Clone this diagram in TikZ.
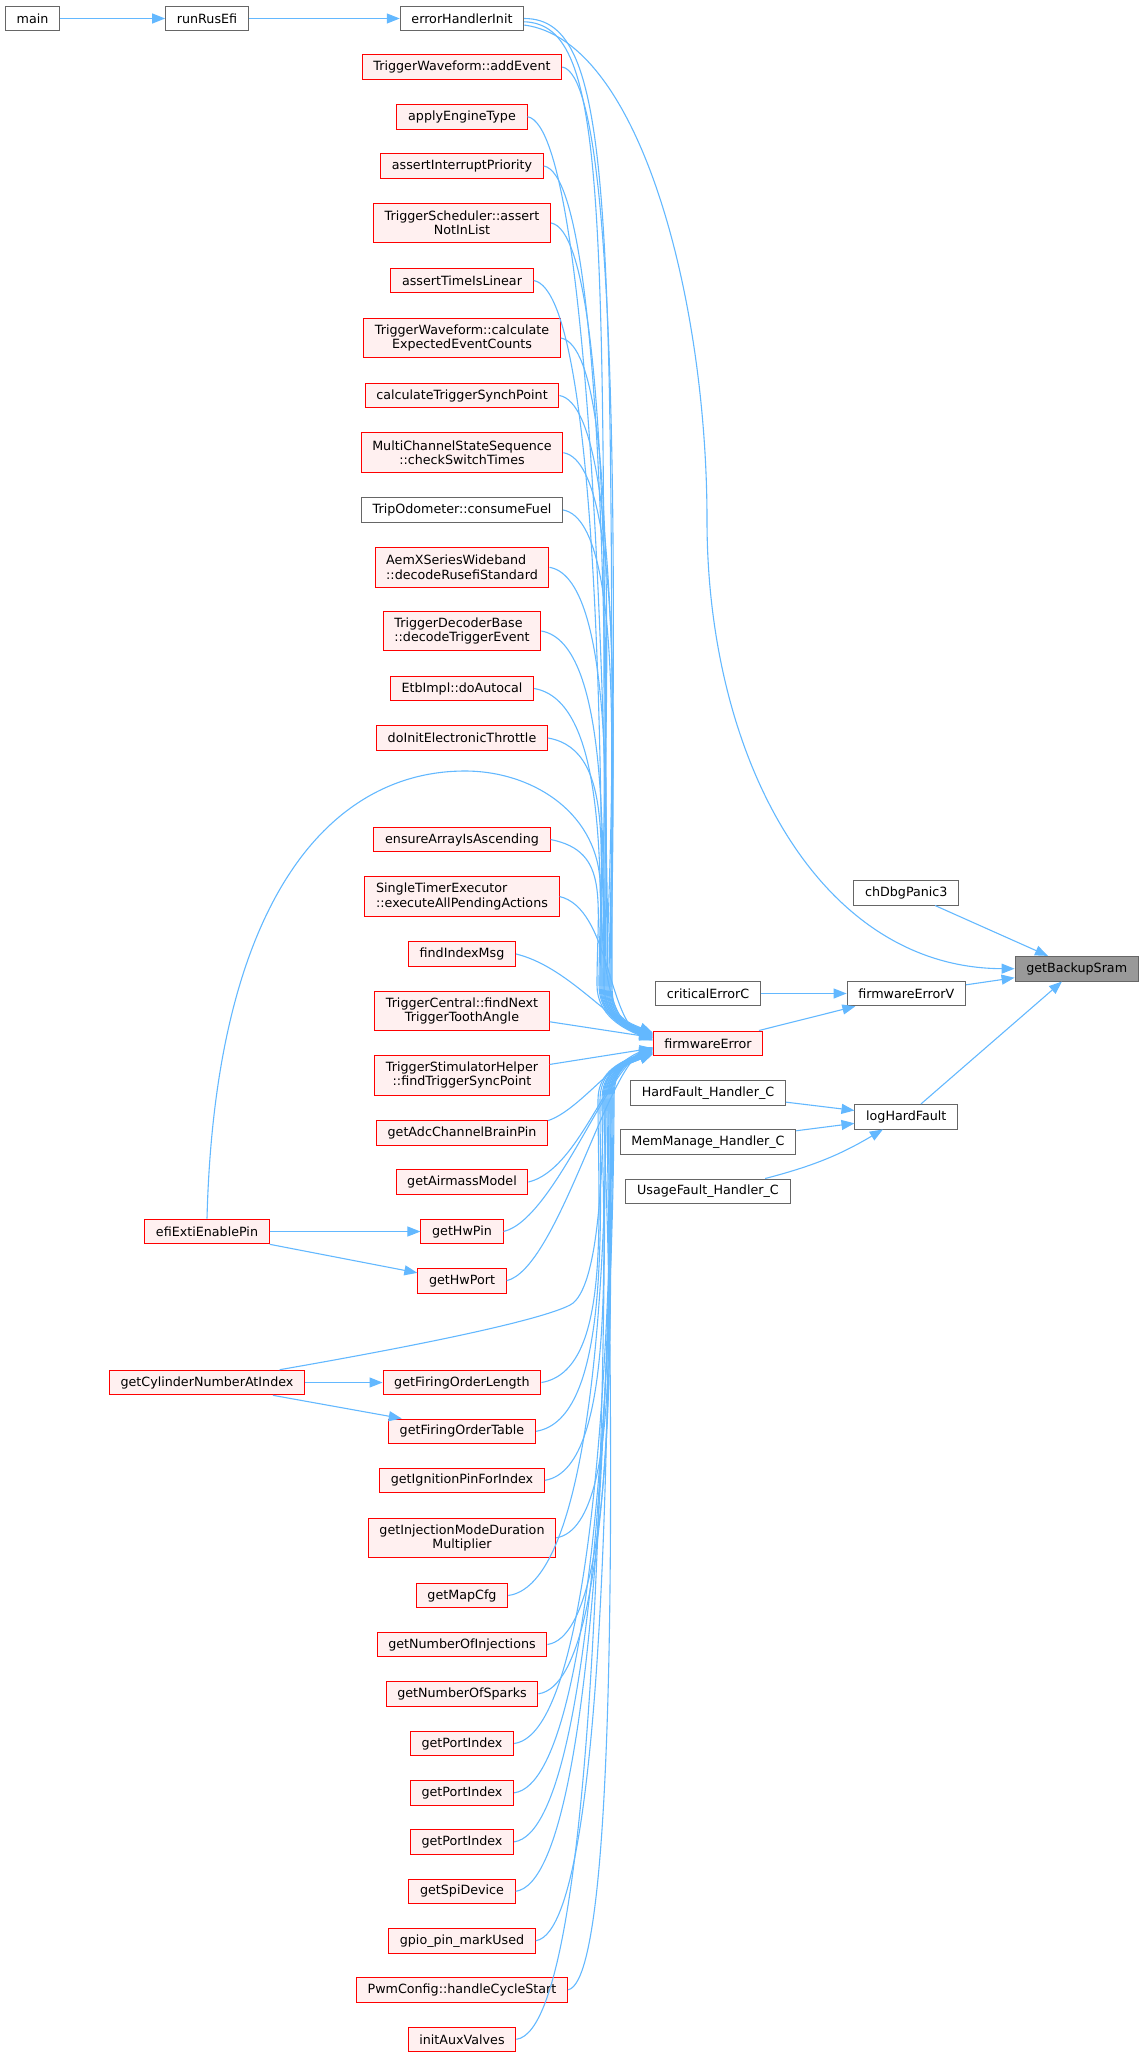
\documentclass[tikz,border=0pt]{standalone}
\usepackage{fontspec}
\setmainfont{DejaVu Sans}
\usetikzlibrary{arrows.meta}
\definecolor{edgeblue}{HTML}{63B8FF}
\definecolor{fnfill}{HTML}{FFF0F0}
\definecolor{boxgray}{HTML}{666666}
\definecolor{hlgray}{HTML}{999999}
\begin{document}
\begin{tikzpicture}[x=1pt, y=-1pt,
    box/.style={rectangle, inner xsep=11.2pt, inner ysep=2pt, minimum height=24.6pt, font=\fontsize{12.7}{14.3}\selectfont},
    two/.style={minimum height=39.6pt, align=center},
    twol/.style={minimum height=39.6pt, align=left},
    fn/.style={box, draw=red, fill=fnfill, line width=1pt},
    gn/.style={box, draw=boxgray, fill=white, line width=1pt},
    hn/.style={box, draw=boxgray, fill=hlgray, line width=1pt},
    call/.style={draw=edgeblue, line width=1.1pt, -{Triangle[length=13pt,width=10pt]}}]
    \useasboundingbox (0,0) rectangle (1144,2057);
    \node[gn] (main) at (32.5,18.5) {main};
    \node[gn] (rre) at (207,18.5) {runRusEfi};
    \node[gn] (ehi) at (462,18.5) {errorHandlerInit};
    \node[fn] (twadd) at (462,67) {TriggerWaveform::addEvent};
    \node[fn] (aet) at (462,116.7) {applyEngineType};
    \node[fn] (aip) at (462,166) {assertInterruptPriority};
    \node[fn, two] (tsa) at (462,223) {TriggerScheduler::assert\\NotInList};
    \node[fn] (atl) at (462,280.5) {assertTimeIsLinear};
    \node[fn, two] (twcalc) at (462,338) {TriggerWaveform::calculate\\ExpectedEventCounts};
    \node[fn] (ctsp) at (462,395.5) {calculateTriggerSynchPoint};
    \node[fn, two] (mcss) at (462,452.7) {MultiChannelStateSequence\\::checkSwitchTimes};
    \node[gn] (todo) at (462,510) {TripOdometer::consumeFuel};
    \node[fn, twol] (aem) at (462,567.3) {AemXSeriesWideband\\::decodeRusefiStandard};
    \node[fn, twol] (tdb) at (462,631) {TriggerDecoderBase\\::decodeTriggerEvent};
    \node[fn] (etb) at (462,688.5) {EtbImpl::doAutocal};
    \node[fn] (diet) at (462,738) {doInitElectronicThrottle};
    \node[fn] (eaia) at (462,839.5) {ensureArrayIsAscending};
    \node[fn, twol] (ste) at (462,896.5) {SingleTimerExecutor\\::executeAllPendingActions};
    \node[fn] (fim) at (462,954) {findIndexMsg};
    \node[fn, two] (tcf) at (462,1011) {TriggerCentral::findNext\\TriggerToothAngle};
    \node[fn, two] (tsh) at (462,1075.2) {TriggerStimulatorHelper\\::findTriggerSyncPoint};
    \node[fn] (gacb) at (462,1132.7) {getAdcChannelBrainPin};
    \node[fn] (gam) at (462,1182) {getAirmassModel};
    \node[fn] (ghpin) at (462,1231.5) {getHwPin};
    \node[fn] (ghport) at (462,1280.7) {getHwPort};
    \node[fn] (gfol) at (462,1382.5) {getFiringOrderLength};
    \node[fn] (gfot) at (462,1431.3) {getFiringOrderTable};
    \node[fn] (gipi) at (462,1480.3) {getIgnitionPinForIndex};
    \node[fn, two] (gimd) at (462,1537.8) {getInjectionModeDuration\\Multiplier};
    \node[fn] (gmc) at (462,1595.5) {getMapCfg};
    \node[fn] (gnoi) at (462,1644.5) {getNumberOfInjections};
    \node[fn] (gnos) at (462,1693.8) {getNumberOfSparks};
    \node[fn] (gpi1) at (462,1743.5) {getPortIndex};
    \node[fn] (gpi2) at (462,1792.8) {getPortIndex};
    \node[fn] (gpi3) at (462,1841.8) {getPortIndex};
    \node[fn] (gsd) at (462,1891.3) {getSpiDevice};
    \node[fn] (gpmu) at (462,1940.7) {gpio\_pin\_markUsed};
    \node[fn] (pwm) at (462,1989.8) {PwmConfig::handleCycleStart};
    \node[fn] (iav) at (462,2039.3) {initAuxValves};
    \node[fn] (efi) at (207,1231.5) {efiExtiEnablePin};
    \node[fn] (gcn) at (207,1382.5) {getCylinderNumberAtIndex};
    \node[gn] (cec) at (708,993.5) {criticalErrorC};
    \node[fn] (fe) at (708,1043.3) {firmwareError};
    \node[gn] (hf) at (708,1092.7) {HardFault\_Handler\_C};
    \node[gn] (mm) at (708,1142) {MemManage\_Handler\_C};
    \node[gn] (uf) at (708,1191.3) {UsageFault\_Handler\_C};
    \node[gn] (chd) at (906.3,892.7) {chDbgPanic3};
    \node[gn] (fev) at (906.3,993.5) {firmwareErrorV};
    \node[gn] (lhf) at (906.3,1116.7) {logHardFault};
    \node[hn] (gbs) at (1076.7,968.7) {getBackupSram};
    \draw[call] (main) -- (rre);
    \draw[call] (rre) -- (ehi);
    \draw[call] (ehi.-6) .. controls (640,40) and (707,300) .. (707,520) .. controls (707,760) and (820,968) .. (gbs.west);
    \draw[call] (chd) -- (gbs);
    \draw[call] (fev) -- (gbs);
    \draw[call] (lhf) -- (gbs);
    \draw[call] (cec) -- (fev);
    \draw[call] (fe) -- (fev);
    \draw[call] (hf) -- (lhf);
    \draw[call] (mm) -- (lhf);
    \draw[call] (uf) to[bend right=8] (lhf);
    \draw[call] (efi) -- (ghpin);
    \draw[call] (efi.south east) -- (ghport.170);
    \draw[call] (gcn) -- (gfol);
    \draw[call] (gcn.-11) -- (gfot.168);
    \draw[call] (ehi.east) .. controls +(90,0) and (612,200) .. (612,985) .. controls (612,1015) and +(-30,-12) .. (fe.169);
    \draw[call] (ehi.-3) .. controls +(85,3) and (604,200) .. (604,985) .. controls (604,1015) and +(-30,-12) .. (fe.170);
    \draw[call] (twadd.east) .. controls +(70,12) and (610,865) .. (610,985) .. controls (610,1015) and +(-30,-12) .. (fe.170);
    \draw[call] (aet.east) .. controls +(70,12) and (608,865) .. (608,985) .. controls (608,1015) and +(-30,-12) .. (fe.171);
    \draw[call] (aip.east) .. controls +(70,12) and (606,865) .. (606,985) .. controls (606,1015) and +(-30,-12) .. (fe.171);
    \draw[call] (tsa.east) .. controls +(70,12) and (604,865) .. (604,985) .. controls (604,1015) and +(-30,-12) .. (fe.172);
    \draw[call] (atl.east) .. controls +(70,12) and (602,865) .. (602,985) .. controls (602,1015) and +(-30,-12) .. (fe.172);
    \draw[call] (twcalc.east) .. controls +(70,12) and (600,865) .. (600,985) .. controls (600,1015) and +(-30,-12) .. (fe.173);
    \draw[call] (ctsp.east) .. controls +(70,12) and (611,865) .. (611,985) .. controls (611,1015) and +(-30,-12) .. (fe.173);
    \draw[call] (mcss.east) .. controls +(70,12) and (609,865) .. (609,985) .. controls (609,1015) and +(-30,-12) .. (fe.174);
    \draw[call] (todo.east) .. controls +(70,12) and (607,865) .. (607,985) .. controls (607,1015) and +(-30,-12) .. (fe.174);
    \draw[call] (aem.east) .. controls +(70,12) and (605,865) .. (605,985) .. controls (605,1015) and +(-30,-12) .. (fe.175);
    \draw[call] (tdb.east) .. controls +(70,12) and (603,865) .. (603,985) .. controls (603,1015) and +(-30,-12) .. (fe.175);
    \draw[call] (etb.east) .. controls +(70,12) and (601,865) .. (601,985) .. controls (601,1015) and +(-30,-12) .. (fe.176);
    \draw[call] (diet.east) .. controls +(70,12) and (599,865) .. (599,985) .. controls (599,1015) and +(-30,-12) .. (fe.176);
    \draw[call] (eaia.east) .. controls +(60,12) and (597,900) .. (597,985) .. controls (597,1015) and +(-30,-12) .. (fe.177);
    \draw[call] (efi.north) .. controls (215,900) and (330,771) .. (465,771) .. controls (530,771) and (595,810) .. (600,880) .. controls (602,990) and (615,1025) .. (fe.174);
    \draw[call] (ste.east) .. controls +(50,12) and +(-45,-20) .. (fe.177);
    \draw[call] (fim.east) .. controls +(50,12) and +(-45,-20) .. (fe.176);
    \draw[call] (tcf.-7) -- (fe.174);
    \draw[call] (tsh.7) -- (fe.185);
    \draw[call] (gacb.8) .. controls +(30,-10) and +(-40,15) .. (fe.184);
    \draw[call] (gam.east) .. controls +(50,-12) and +(-45,20) .. (fe.184);
    \draw[call] (ghpin.east) .. controls +(50,-12) and +(-45,20) .. (fe.185);
    \draw[call] (ghport.east) .. controls +(50,-12) and +(-45,20) .. (fe.185);
    \draw[call] (gcn.10) .. controls (450,1340) and (545,1318) .. (570,1305) .. controls (600,1290) and (603,1160) .. (603,1100) .. controls (603,1070) and +(-30,12) .. (fe.189);
    \draw[call] (gfol.east) .. controls +(70,-12) and (598,1220) .. (598,1100) .. controls (598,1070) and +(-30,12) .. (fe.186);
    \draw[call] (gfot.east) .. controls +(75,-12) and (600,1220) .. (600,1100) .. controls (600,1070) and +(-30,12) .. (fe.186);
    \draw[call] (gipi.east) .. controls +(75,-12) and (602,1220) .. (602,1100) .. controls (602,1070) and +(-30,12) .. (fe.187);
    \draw[call] (gimd.east) .. controls +(75,-12) and (604,1220) .. (604,1100) .. controls (604,1070) and +(-30,12) .. (fe.187);
    \draw[call] (gmc.east) .. controls +(90,-12) and (606,1220) .. (606,1100) .. controls (606,1070) and +(-30,12) .. (fe.188);
    \draw[call] (gnoi.east) .. controls +(80,-12) and (608,1220) .. (608,1100) .. controls (608,1070) and +(-30,12) .. (fe.188);
    \draw[call] (gnos.east) .. controls +(85,-12) and (610,1220) .. (610,1100) .. controls (610,1070) and +(-30,12) .. (fe.189);
    \draw[call] (gpi1.east) .. controls +(90,-12) and (612,1220) .. (612,1100) .. controls (612,1070) and +(-30,12) .. (fe.189);
    \draw[call] (gpi2.east) .. controls +(90,-12) and (614,1220) .. (614,1100) .. controls (614,1070) and +(-30,12) .. (fe.190);
    \draw[call] (gpi3.east) .. controls +(90,-12) and (613,1220) .. (613,1100) .. controls (613,1070) and +(-30,12) .. (fe.190);
    \draw[call] (gsd.east) .. controls +(90,-12) and (611,1220) .. (611,1100) .. controls (611,1070) and +(-30,12) .. (fe.190);
    \draw[call] (gpmu.east) .. controls +(80,-12) and (609,1220) .. (609,1100) .. controls (609,1070) and +(-30,12) .. (fe.191);
    \draw[call] (pwm.east) .. controls +(60,-12) and (607,1220) .. (607,1100) .. controls (607,1070) and +(-30,12) .. (fe.191);
    \draw[call] (iav.east) .. controls +(90,-12) and (605,1220) .. (605,1100) .. controls (605,1070) and +(-30,12) .. (fe.191);
\end{tikzpicture}
\end{document}
